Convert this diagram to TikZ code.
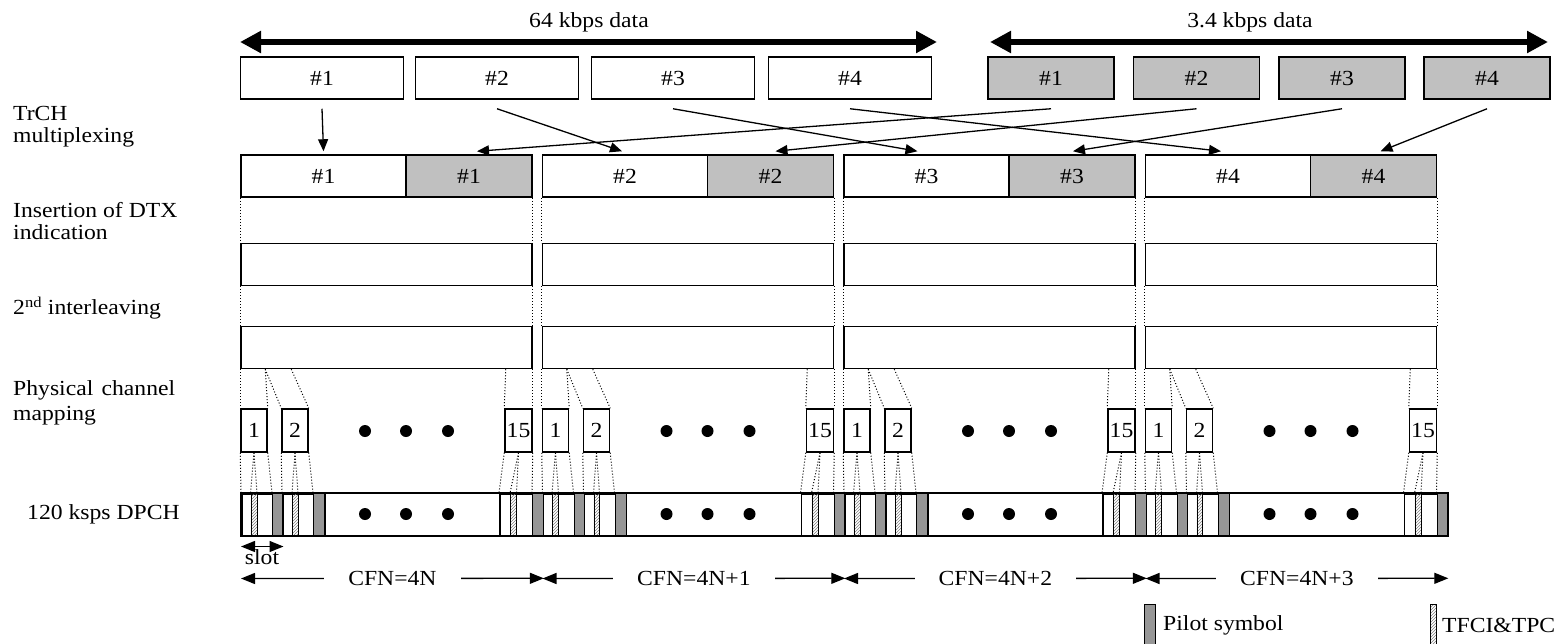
\documentclass[tikz,border=0pt]{standalone}
\usepackage{fontspec}
\setmainfont{Liberation Serif}[FakeStretch=1.1]
\usetikzlibrary{arrows.meta,calc,patterns}
\definecolor{boxgray}{RGB}{192,192,192}
\definecolor{pilotgray}{RGB}{150,150,150}
\begin{document}
\begin{tikzpicture}[x=1pt,y=-1pt,
  every node/.style={font=\fontsize{21.5}{24}\selectfont},
  box/.style={draw, line width=1.5pt, inner sep=0pt},
  wbox/.style={box, fill=white},
  gbox/.style={box, fill=boxgray},
  slotbox/.style={box, fill=white, minimum width=26, minimum height=43},
  barslot/.style={draw, line width=1.5pt, inner sep=0pt, fill=white, minimum height=42, anchor=north west},
  pilot/.style={draw, line width=1.3pt, inner sep=0pt, fill=pilotgray, minimum height=42, anchor=north west},
  hatch/.style={draw, line width=0.5pt, inner sep=0pt, fill=white, pattern=north east lines, pattern color=gray, minimum height=42, anchor=north west},
  dots/.style={dotted, line width=1pt},
  bigarr/.style={line width=6pt, {Triangle[length=21pt,width=21pt]}-{Triangle[length=21pt,width=21pt]}},
  muxarr/.style={line width=1.3pt, -{Triangle[length=12pt,width=10pt]}},
  cfnarr/.style={line width=1.3pt, {Triangle[length=14pt,width=11pt]}-{Triangle[length=14pt,width=11pt]}},
  lbl/.style={anchor=west, inner sep=0pt}
]
\useasboundingbox (0,0) rectangle (1560,643);

% left labels
\node[lbl] (l1) at (13,113) {TrCH};
\node[lbl] (l2) at (13,137) {multiplexing};
\node[lbl] (l3) at (13,210) {Insertion of DTX};
\node[lbl] (l4) at (13,232) {indication};
\node[lbl] (l5) at (13,308) {2\textsuperscript{nd} interleaving};
\node[lbl] (l6) at (13,390) {\makebox[162pt][s]{Physical channel}};
\node[lbl] (l7) at (13,416) {mapping};
\node[lbl] (l8) at (27,514) {120 ksps DPCH};

% top data arrows
\coordinate (k64l) at (240,42);
\coordinate (k64r) at (937,42);
\coordinate (k34l) at (990,42);
\coordinate (k34r) at (1548,42);
\draw[bigarr] (k64l) -- (k64r);
\draw[bigarr] (k34l) -- (k34r);
\node (t64) at (589,22) {64 kbps data};
\node (t34) at (1250,22) {3.4 kbps data};

% row 1 boxes
\node[wbox, minimum width=163, minimum height=42] (a1) at (322,78) {\#1};
\node[wbox, minimum width=163, minimum height=42] (a2) at (497,78) {\#2};
\node[wbox, minimum width=163, minimum height=42] (a3) at (673,78) {\#3};
\node[wbox, minimum width=163, minimum height=42] (a4) at (850,78) {\#4};
\node[gbox, minimum width=126, minimum height=42] (g1) at (1051,78) {\#1};
\node[gbox, minimum width=126, minimum height=42] (g2) at (1196.5,78) {\#2};
\node[gbox, minimum width=126, minimum height=42] (g3) at (1342,78) {\#3};
\node[gbox, minimum width=126, minimum height=42] (g4) at (1487,78) {\#4};

\foreach \f in {0,1,2,3}{
  \pgfmathsetmacro\X{241+301.5*\f}
  \pgfmathtruncatemacro\n{\f+1}
  % multiplexed row
  \node[wbox, minimum width=165, minimum height=42] (mw\f) at (\X+82.5,176) {\#\n};
  \node[gbox, minimum width=126, minimum height=42] (mg\f) at (\X+228,176) {\#\n};
  % DTX row and interleaving row
  \node[wbox, minimum width=291, minimum height=42] (d\f) at (\X+145.5,264.5) {};
  \node[wbox, minimum width=291, minimum height=42] (i\f) at (\X+145.5,347.5) {};
  \draw[dots] (mw\f.south west) -- (d\f.north west);
  \draw[dots] (mg\f.south east) -- (d\f.north east);
  \draw[dots] (d\f.south west) -- (i\f.north west);
  \draw[dots] (d\f.south east) -- (i\f.north east);
  % slot boxes
  \node[slotbox] (sa\f) at (\X+13,430.5) {1};
  \node[slotbox] (sb\f) at (\X+54,430.5) {2};
  \node[slotbox, minimum width=27] (sc\f) at (\X+277.5,430.5) {15};
  \draw[dots] (i\f.south west) -- (sa\f.north west);
  \draw[dots] ($(i\f.south west)+(25,0)$) -- (sa\f.north east);
  \draw[dots] ($(i\f.south west)+(25,0)$) -- (sb\f.north west);
  \draw[dots] ($(i\f.south west)+(51,0)$) -- (sb\f.north east);
  \draw[dots] ($(i\f.south east)+(-27,0)$) -- (sc\f.north west);
  \draw[dots] (i\f.south east) -- (sc\f.north east);
  \foreach \dx in {124,165,207}{
    \fill (\X+\dx,431) circle[radius=6pt];
  }
  % DPCH bar slots
  \node[barslot, minimum width=41] (qa\f) at (\X,493) {};
  \node[barslot, minimum width=42] (qb\f) at (\X+41,493) {};
  \node[barslot, minimum width=43.5] (qc\f) at (\X+258,493) {};
  \node[hatch, minimum width=6] (ha\f) at (\X+9.5,493) {};
  \node[hatch, minimum width=5.5] (hb\f) at (\X+51,493) {};
  \node[hatch, minimum width=6] (hc\f) at (\X+269,493) {};
  \node[pilot, minimum width=10] (pa\f) at (\X+31,493) {};
  \node[pilot, minimum width=11] (pb\f) at (\X+72,493) {};
  \node[pilot, minimum width=10.5] (pc\f) at (\X+291,493) {};
  \foreach \dx in {124,165,207}{
    \fill (\X+\dx,514) circle[radius=6pt];
  }
  % slot box to bar
  \draw[dots] (sa\f.south west) -- (qa\f.north west);
  \draw[dots] (sa\f.south) -- (ha\f.north west);
  \draw[dots] (sa\f.south) -- (ha\f.north east);
  \draw[dots] (sa\f.south east) -- (pa\f.north west);
  \draw[dots] (sb\f.south west) -- (qb\f.north west);
  \draw[dots] (sb\f.south) -- (hb\f.north west);
  \draw[dots] (sb\f.south) -- (hb\f.north east);
  \draw[dots] (sb\f.south east) -- (pb\f.north west);
  \draw[dots] (sc\f.south west) -- (qc\f.north west);
  \draw[dots] (sc\f.south) -- (hc\f.north west);
  \draw[dots] (sc\f.south) -- (hc\f.north east);
  \draw[dots] (sc\f.south east) -- (pc\f.north west);
}
% bar outline
\draw[line width=2pt] (qa0.north west) rectangle (pc3.south east);

% multiplexing arrows
\draw[muxarr] ([yshift=-9pt]a1.south) -- ([yshift=3pt]mw0.north);
\draw[muxarr] ([yshift=-9pt]a2.south) -- ([yshift=3pt,xshift=-3pt]mw1.north);
\draw[muxarr] ([yshift=-9pt]a3.south) -- ([yshift=3pt,xshift=-9pt]mw2.north);
\draw[muxarr] ([yshift=-9pt]a4.south) -- ([yshift=3pt,xshift=-7pt]mw3.north);
\draw[muxarr] ([yshift=-9pt]g1.south) -- ([yshift=3pt,xshift=8pt]mg0.north);
\draw[muxarr] ([yshift=-9pt]g2.south) -- ([yshift=3pt,xshift=5pt]mg1.north);
\draw[muxarr] ([yshift=-9pt]g3.south) -- ([yshift=3pt,xshift=1pt]mg2.north);
\draw[muxarr] ([yshift=-9pt]g4.south) -- ([yshift=3pt,xshift=7pt]mg3.north);

% slot arrow
\draw[cfnarr] ([yshift=-10pt]qa0.south west) -- ([yshift=-10pt]qa0.south east);
\node (slotlbl) at (262,557) {slot};

% CFN arrows
\draw[cfnarr] ([yshift=-42pt]qa0.south west) -- ([yshift=-42pt]pc0.south east) node[midway, fill=white, inner xsep=24pt, inner ysep=1pt] (cfn0) {CFN=4N};
\draw[cfnarr] ([yshift=-42pt]qa1.south west) -- ([yshift=-42pt]pc1.south east) node[midway, fill=white, inner xsep=24pt, inner ysep=1pt] (cfn1) {CFN=4N+1};
\draw[cfnarr] ([yshift=-42pt]qa2.south west) -- ([yshift=-42pt]pc2.south east) node[midway, fill=white, inner xsep=24pt, inner ysep=1pt] (cfn2) {CFN=4N+2};
\draw[cfnarr] ([yshift=-42pt]qa3.south west) -- ([yshift=-42pt]pc3.south east) node[midway, fill=white, inner xsep=24pt, inner ysep=1pt] (cfn3) {CFN=4N+3};

% legend
\node[pilot, minimum width=11, minimum height=42] (legp) at (1144,604) {};
\node[lbl] (legpt) at (1163,625) {Pilot symbol};
\node[hatch, minimum width=5.5, minimum height=42] (legh) at (1430,604) {};
\node[lbl] (leght) at (1442,625) {TFCI\&TPC};
\end{tikzpicture}
\end{document}
